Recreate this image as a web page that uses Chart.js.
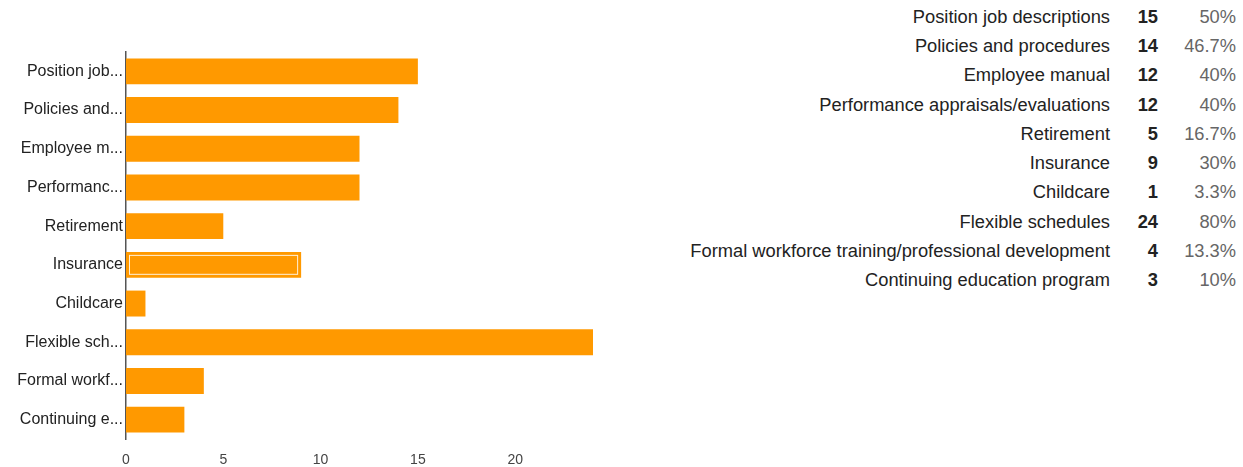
<!DOCTYPE html>
<html>
<head>
<meta charset="utf-8">
<script src="https://cdn.jsdelivr.net/npm/chart.js@4"></script>
<style>
  body { margin: 0; background: #fff; font-family: "Liberation Sans", Arial, sans-serif; }
  #wrap { position: absolute; left: 0; top: 0; width: 620px; height: 467px; }
  #summary { position: absolute; right: 7px; top: 2px; border-collapse: collapse; font-size: 18.3px; color: #222; }
  #summary td { height: 29.3px; padding: 0; white-space: nowrap; text-align: right; }
  #summary td.n { width: 48px; font-weight: bold; }
  #summary td.p { width: 78px; color: #666; }
</style>
</head>
<body>
<div id="wrap"><canvas id="myBarGraph" width="620" height="467"></canvas></div>
<table id="summary"></table>
<script>
var categories = ["Position job descriptions", "Policies and procedures", "Employee manual",
  "Performance appraisals/evaluations", "Retirement", "Insurance", "Childcare",
  "Flexible schedules", "Formal workforce training/professional development", "Continuing education program"];
var shortLabels = ["Position job...", "Policies and...", "Employee m...", "Performanc...", "Retirement",
  "Insurance", "Childcare", "Flexible sch...", "Formal workf...", "Continuing e..."];
var counts = [15, 14, 12, 12, 5, 9, 1, 24, 4, 3];
var percents = ["50%", "46.7%", "40%", "40%", "16.7%", "30%", "3.3%", "80%", "13.3%", "10%"];
var selected = 5; // Insurance bar is shown highlighted

// summary table on the right
var table = document.getElementById("summary");
categories.forEach(function(c, i) {
  var tr = document.createElement("tr");
  tr.innerHTML = "<td>" + c + "</td><td class='n'>" + counts[i] + "</td><td class='p'>" + percents[i] + "</td>";
  table.appendChild(tr);
});

// white inner outline on the selected bar
var highlight = {
  id: "highlight",
  afterDatasetsDraw: function(chart) {
    var bar = chart.getDatasetMeta(0).data[selected];
    if (!bar) return;
    var ctx = chart.ctx;
    var p = bar.getProps(["x", "y", "base", "height"], true);
    ctx.save();
    ctx.strokeStyle = "rgba(255,255,255,0.85)";
    ctx.lineWidth = 1;
    ctx.strokeRect(p.base + 3.5, p.y - p.height / 2 + 3.5, p.x - p.base - 7, p.height - 7);
    ctx.restore();
  }
};

var bars = document.getElementById("myBarGraph").getContext("2d");
var myBarGraph = new Chart(bars, {
  type: "bar",
  data: {
    labels: shortLabels,
    datasets: [{
      label: "Count",
      data: counts,
      backgroundColor: "#ff9900",
      borderWidth: 0,
      barPercentage: 0.67,
      categoryPercentage: 1
    }]
  },
  options: {
    indexAxis: "y",
    responsive: false,
    animation: false,
    layout: { padding: { top: 52, left: 0, right: 27, bottom: 0 } },
    plugins: { legend: { display: false }, tooltip: { enabled: false } },
    scales: {
      y: {
        grid: { display: false, drawTicks: false },
        border: { display: true, color: "#555", width: 1.5 },
        ticks: { color: "#222", padding: 3, font: { family: "Liberation Sans", size: 16 } },
        afterFit: function(s) { s.width = 126; }
      },
      x: {
        min: 0,
        max: 24,
        grid: { display: false, drawTicks: false },
        border: { display: false },
        ticks: { stepSize: 5, color: "#444", padding: 13, font: { family: "Liberation Sans", size: 14 } },
        afterBuildTicks: function(s) { s.ticks = s.ticks.filter(function(t) { return t.value % 5 === 0; }); },
        afterFit: function(s) { s.height = 28; }
      }
    }
  },
  plugins: [highlight]
});
</script>
</body>
</html>
